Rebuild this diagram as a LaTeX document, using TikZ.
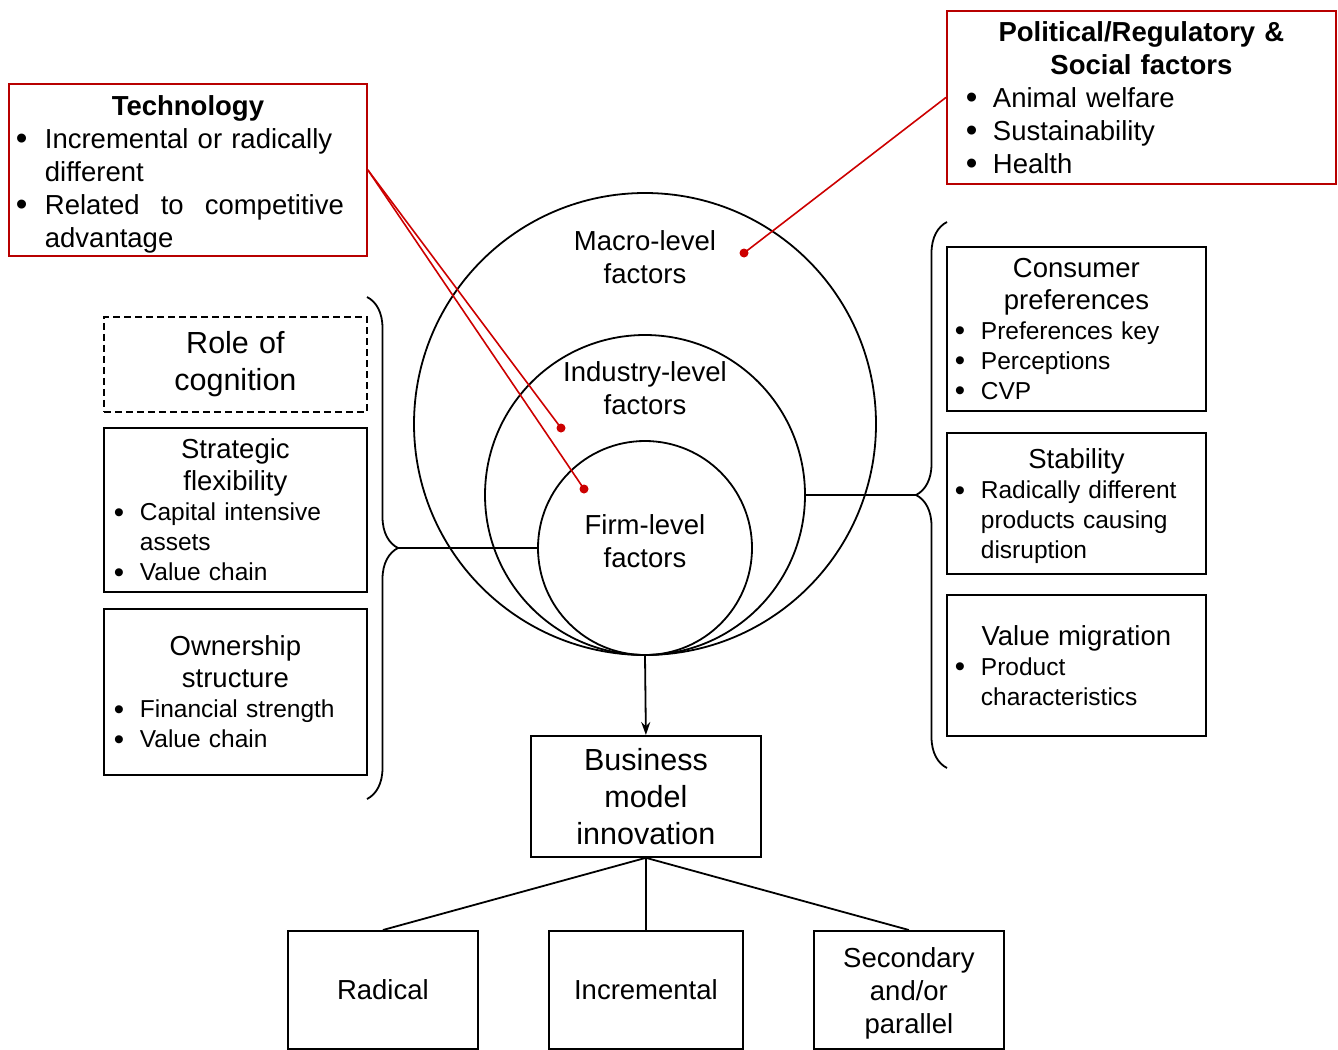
\documentclass[tikz,border=0pt]{standalone}
\usepackage{fontspec}
\setmainfont{Liberation Sans}
\usetikzlibrary{arrows.meta,positioning,decorations.pathreplacing}
\setlength{\parindent}{0pt}
\newcommand{\bul}[1][26pt]{\makebox[#1][l]{\smash{\raisebox{-0.06em}{\scalebox{1.2}{\textbullet}}}}}
\newcommand{\ttl}[1]{{\centering\fontsize{27.5}{32}\selectfont #1\par}}

\begin{document}
\begin{tikzpicture}[x=1pt,y=-1pt,>={Stealth[length=13pt,width=9pt]},
  infobox/.style={draw,line width=1.8pt,rectangle,inner xsep=10pt,inner ysep=0pt,align=left,anchor=north west,font=\fontsize{24.5}{30}\selectfont},
  redbox/.style={infobox,draw=red!72!black,font=\fontsize{27.5}{33}\selectfont},
  outcome/.style={infobox,align=center,minimum height=118pt,font=\fontsize{27.5}{33}\selectfont},
  level/.style={circle,draw,line width=1.8pt,inner sep=0pt},
  leveltxt/.style={align=center,font=\fontsize{27.5}{33}\selectfont},
  redline/.style={draw=red!80!black,line width=1.6pt},
  link/.style={line width=1.8pt},
  brc/.style={decorate,decoration={brace,amplitude=31pt},line width=1.8pt}]
\useasboundingbox (0,0) rectangle (1338,1049);

% nested levels
\node[level,minimum size=462pt] (macro) at (645,424) {};
\node[level,minimum size=320pt] (industry) at (645,495) {};
\node[level,minimum size=214pt] (firm) at (645,548) {};
\node[leveltxt] (macrotxt) at (645,257) {Macro-level\\factors};
\node[leveltxt] (industrytxt) at (645,388) {Industry-level\\factors};
\node[leveltxt] (firmtxt) at (645,541) {Firm-level\\factors};

% external factors
\node[redbox,minimum width=358pt,text width=344pt,inner xsep=7pt,minimum height=172pt] (tech) at (8,83) {%
  {\centering\bfseries\rule{0pt}{28pt}Technology\par}
  \bul[29pt]Incremental or radically\\
  \hspace*{29pt}different\\
  \bul[29pt]\makebox[299pt][s]{Related\hfill to\hfill competitive}\\
  \hspace*{29pt}advantage};
\node[redbox,minimum width=389pt,text width=351pt,inner xsep=19pt,minimum height=173pt] (polit) at (946,10) {%
  {\centering\bfseries Political/Regulatory \&\\Social factors\par}
  \bul[27pt]Animal welfare\\
  \bul[27pt]Sustainability\\
  \bul[27pt]Health};

% firm side
\node[infobox,dashed,dash pattern=on 7pt off 4pt,align=center,minimum width=263pt,text width=243pt,minimum height=95pt,font=\fontsize{30.5}{37}\selectfont] (cognition) at (103,316) {Role of\\cognition};
\node[infobox,minimum width=263pt,text width=243pt,minimum height=164pt] (flexib) at (103,427) {%
  \ttl{Strategic\\flexibility}
  \bul Capital intensive\\
  \hspace*{26pt}assets\\
  \bul Value chain};
\node[infobox,minimum width=263pt,text width=243pt,minimum height=166pt] (ownership) at (103,608) {%
  \ttl{Ownership\\structure}
  \bul Financial strength\\
  \bul Value chain};

% industry side
\node[infobox,inner xsep=8pt,minimum width=259pt,text width=243pt,minimum height=164pt] (consumer) at (946,246) {%
  \ttl{Consumer\\preferences}
  \bul Preferences key\\
  \bul Perceptions\\
  \bul CVP};
\node[infobox,inner xsep=8pt,minimum width=259pt,text width=243pt,minimum height=141pt] (stability) at (946,432) {%
  \ttl{\rule{0pt}{26pt}Stability}
  \bul Radically different\\
  \hspace*{26pt}products causing\\
  \hspace*{26pt}disruption};
\node[infobox,inner xsep=8pt,minimum width=259pt,text width=243pt,minimum height=141pt] (valuemig) at (946,594) {%
  \ttl{Value migration}
  \bul Product\\
  \hspace*{26pt}characteristics};

% outcome
\node[infobox,align=center,minimum width=230pt,text width=210pt,minimum height=121pt,font=\fontsize{30.5}{37}\selectfont] (bmi) at (530,735) {Business\\model\\innovation};
\node[outcome,minimum width=190pt,text width=170pt] (radical) at (287,930) {Radical};
\node[outcome,minimum width=194pt,text width=174pt] (incremental) at (548,930) {Incremental};
\node[outcome,minimum width=190pt,text width=170pt] (secondary) at (813,930) {\rule{0pt}{27pt}Secondary\\and/or\\parallel};

% braces and links
\draw[brc] (367,297) -- (367,799);
\coordinate (ltip) at (398,548);
\draw[brc] (947,768) -- (947,222);
\coordinate (rtip) at (916,495);
\draw[link] (ltip) -- (firm.west);
\draw[link] (industry.east) -- (rtip);
\draw[link,->] (firm.south) -- (bmi.north);
\draw[link] (bmi.south) -- (radical.north);
\draw[link] (bmi.south) -- (incremental.north);
\draw[link] (bmi.south) -- (secondary.north);

% red pointers
\coordinate (industrydot) at (561,428);
\coordinate (firmdot) at (584,489);
\coordinate (macrodot) at (744,253);
\draw[redline] (tech.east) -- (industrydot);
\draw[redline] (tech.east) -- (firmdot);
\draw[redline] (polit.west) -- (macrodot);
\fill[red!80!black] (industrydot) circle (4.5pt) (firmdot) circle (4.5pt) (macrodot) circle (4.5pt);
\end{tikzpicture}
\end{document}
